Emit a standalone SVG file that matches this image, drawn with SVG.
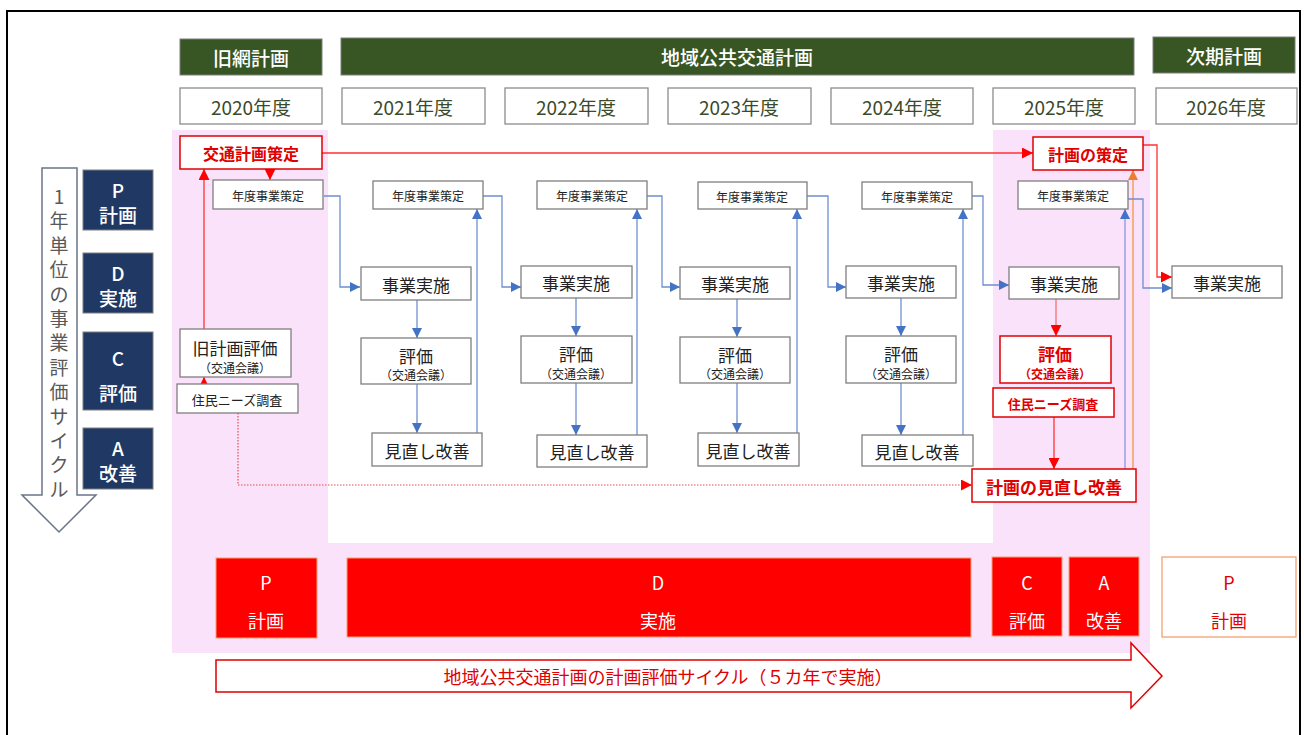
<svg xmlns="http://www.w3.org/2000/svg" width="1304" height="735" viewBox="0 0 1304 735">
<defs>
<style>
text{font-family:"Noto Sans CJK JP","Noto Sans",sans-serif;text-anchor:middle;dominant-baseline:central}
.hdr{fill:#375623;stroke:#7f7f7f;stroke-width:1}
.hdrt{fill:#fff;font-size:19px;font-weight:500}
.yr{fill:#fff;stroke:#8c8c8c;stroke-width:1.3}
.yrt{fill:#3a4a2a;font-size:19px}
.nd{fill:#fff;stroke:#7f7f7f;stroke-width:1.3}
.rnd{fill:#fff;stroke:#e00000;stroke-width:1.5}
.t12{font-size:12px;fill:#222}
.t16{font-size:17px;fill:#222}
.rt{fill:#e00000;font-weight:bold}
.pdca{fill:#1f3864;stroke:#7f7f7f;stroke-width:1}
.pdt{fill:#fff;font-size:19px;font-weight:500}
.blk{fill:#ff0000;stroke:#f4a070;stroke-width:1}
.blkt{fill:#fff;font-size:18px}
.bl{fill:none;stroke:#6f8fcf;stroke-width:1.3}
.rl{fill:none;stroke:#ff3030;stroke-width:1.3}
</style>
<marker id="ab" viewBox="0 0 10 10" refX="10" refY="5" markerWidth="10" markerHeight="10" markerUnits="userSpaceOnUse" orient="auto"><path d="M0,0 L10,5 L0,10 z" fill="#4472c4"/></marker>
<marker id="ar" viewBox="0 0 10 10" refX="10" refY="5" markerWidth="11" markerHeight="11" markerUnits="userSpaceOnUse" orient="auto"><path d="M0,0 L10,5 L0,10 z" fill="#ff0000"/></marker>
<marker id="ao" viewBox="0 0 10 10" refX="10" refY="5" markerWidth="10" markerHeight="10" markerUnits="userSpaceOnUse" orient="auto"><path d="M0,0 L10,5 L0,10 z" fill="#ed7d31"/></marker>
</defs>
<rect x="0" y="0" width="1304" height="735" fill="#fff"/>
<rect x="7" y="11" width="1293" height="740" fill="none" stroke="#000" stroke-width="2"/>

<g id="background">
<rect x="172" y="130" width="978" height="523" fill="#fbe2fb"/>
<rect x="328" y="130" width="665" height="413" fill="#fff"/>
</g>

<g id="headers">
<g id="h-old"><rect class="hdr" x="180" y="39" width="142" height="36"/><text class="hdrt" x="251" y="57">旧網計画</text></g>
<g id="h-main"><rect class="hdr" x="341" y="38" width="793" height="37"/><text class="hdrt" x="737" y="56">地域公共交通計画</text></g>
<g id="h-next"><rect class="hdr" x="1153" y="37" width="142" height="36"/><text class="hdrt" x="1224" y="55">次期計画</text></g>
</g>

<g id="years">
<g id="y2020"><rect class="yr" x="180" y="88" width="142" height="36"/><text class="yrt" x="251" y="106">2020年度</text></g>
<g id="y2021"><rect class="yr" x="342" y="88" width="143" height="36"/><text class="yrt" x="413" y="106">2021年度</text></g>
<g id="y2022"><rect class="yr" x="505" y="88" width="143" height="36"/><text class="yrt" x="576" y="106">2022年度</text></g>
<g id="y2023"><rect class="yr" x="668" y="88" width="143" height="36"/><text class="yrt" x="739" y="106">2023年度</text></g>
<g id="y2024"><rect class="yr" x="831" y="88" width="142" height="36"/><text class="yrt" x="902" y="106">2024年度</text></g>
<g id="y2025"><rect class="yr" x="993" y="88" width="142" height="36"/><text class="yrt" x="1064" y="106">2025年度</text></g>
<g id="y2026"><rect class="yr" x="1156" y="88" width="141" height="36"/><text class="yrt" x="1226" y="106">2026年度</text></g>
</g>

<g id="cycle-arrow">
<path d="M42,168 H77 V495 H96 L59,532 L22,495 H42 Z" fill="#fff" stroke="#6b7686" stroke-width="1.5"/>
<text font-size="19" fill="#595959"><tspan x="59" y="195">1</tspan><tspan x="59" dy="24.4">年</tspan><tspan x="59" dy="24.4">単</tspan><tspan x="59" dy="24.4">位</tspan><tspan x="59" dy="24.4">の</tspan><tspan x="59" dy="24.4">事</tspan><tspan x="59" dy="24.4">業</tspan><tspan x="59" dy="24.4">評</tspan><tspan x="59" dy="24.4">価</tspan><tspan x="59" dy="24.4">サ</tspan><tspan x="59" dy="24.4">イ</tspan><tspan x="59" dy="24.4">ク</tspan><tspan x="59" dy="24.4">ル</tspan></text>
</g>

<g id="pdca-left">
<g id="lp"><rect class="pdca" x="83" y="170" width="70" height="60"/><text class="pdt" x="118" y="189">P</text><text class="pdt" x="118" y="214">計画</text></g>
<g id="ld"><rect class="pdca" x="83" y="253" width="70" height="60"/><text class="pdt" x="118" y="272">D</text><text class="pdt" x="118" y="297">実施</text></g>
<g id="lc"><rect class="pdca" x="83" y="332" width="70" height="78"/><text class="pdt" x="118" y="357">C</text><text class="pdt" x="118" y="392">評価</text></g>
<g id="la"><rect class="pdca" x="83" y="428" width="70" height="61"/><text class="pdt" x="118" y="447">A</text><text class="pdt" x="118" y="472">改善</text></g>
</g>

<g id="connectors">
<path class="rl" d="M322,153 H1033" marker-end="url(#ar)"/>
<path class="rl" d="M270,169 V180" marker-end="url(#ar)"/>
<path class="rl" d="M204,330 V169" marker-end="url(#ar)"/>
<path class="rl" d="M204,398 V377" marker-end="url(#ar)"/>
<path d="M238,413 V485 H972" fill="none" stroke="#e05050" stroke-width="1.2" stroke-dasharray="1.5 1.5" marker-end="url(#ar)"/>
<path class="bl" d="M324,196 H340 V287 H360" marker-end="url(#ab)"/>
<path class="bl" d="M417,300 V338" marker-end="url(#ab)"/>
<path class="bl" d="M417,384 V433" marker-end="url(#ab)"/>
<path class="bl" d="M477,433 V209" marker-end="url(#ab)"/>
<path class="bl" d="M483,196 H502 V287 H521" marker-end="url(#ab)"/>
<path class="bl" d="M576,298 V336" marker-end="url(#ab)"/>
<path class="bl" d="M576,383 V435" marker-end="url(#ab)"/>
<path class="bl" d="M637,435 V209" marker-end="url(#ab)"/>
<path class="bl" d="M647,196 H662 V287 H680" marker-end="url(#ab)"/>
<path class="bl" d="M737,299 V337" marker-end="url(#ab)"/>
<path class="bl" d="M737,383 V433" marker-end="url(#ab)"/>
<path class="bl" d="M797,433 V209" marker-end="url(#ab)"/>
<path class="bl" d="M807,196 H828 V287 H846" marker-end="url(#ab)"/>
<path class="bl" d="M901,298 V336" marker-end="url(#ab)"/>
<path class="bl" d="M901,383 V435" marker-end="url(#ab)"/>
<path class="bl" d="M963,435 V209" marker-end="url(#ab)"/>
<path class="bl" d="M972,196 H983 V285 H1009" marker-end="url(#ab)"/>
<path d="M1056,299 V336" fill="none" stroke="#f08080" stroke-width="1.5" marker-end="url(#ar)"/>
<path class="rl" d="M1054,417 V469" marker-end="url(#ar)"/>
<path d="M1125,469 V209" fill="none" stroke="#9aa0e0" stroke-width="1.5" marker-end="url(#ab)"/>
<path d="M1133,469 V170" fill="none" stroke="#f4b183" stroke-width="2" marker-end="url(#ao)"/>
<path class="rl" d="M1143,145 H1157 V277 H1172" marker-end="url(#ar)"/>
<path class="bl" d="M1128,199 H1143 V288 H1172" marker-end="url(#ab)"/>
</g>

<g id="n-kotsu"><rect class="rnd" x="180" y="136" width="142" height="33"/><text class="rt" font-size="16" x="251" y="153">交通計画策定</text></g>
<g id="n-nendo2020"><rect class="nd" x="213" y="180" width="110" height="29"/><text class="t12" x="268" y="195">年度事業策定</text></g>
<g id="n-kyuhyoka"><rect class="nd" x="180" y="329" width="111" height="48"/><text class="t16" x="235" y="347">旧計画評価</text><text class="t12" x="235" y="367">（交通会議）</text></g>
<g id="n-jumin2020"><rect class="nd" x="177" y="384" width="121" height="29"/><text font-size="13" fill="#222" x="237" y="399">住民ニーズ調査</text></g>

<g id="n-nendo2021"><rect class="nd" x="373" y="181" width="110" height="28"/><text class="t12" x="428" y="195">年度事業策定</text></g>
<g id="n-jisshi2021"><rect class="nd" x="361" y="267" width="110" height="33"/><text class="t16" x="416" y="284">事業実施</text></g>
<g id="n-hyoka2021"><rect class="nd" x="361" y="338" width="110" height="46"/><text class="t16" x="416" y="355">評価</text><text class="t12" x="416" y="374">（交通会議）</text></g>
<g id="n-kaizen2021"><rect class="nd" x="372" y="433" width="110" height="33"/><text class="t16" x="427" y="450">見直し改善</text></g>

<g id="n-nendo2022"><rect class="nd" x="537" y="181" width="110" height="28"/><text class="t12" x="592" y="195">年度事業策定</text></g>
<g id="n-jisshi2022"><rect class="nd" x="521" y="266" width="111" height="32"/><text class="t16" x="576" y="282">事業実施</text></g>
<g id="n-hyoka2022"><rect class="nd" x="521" y="336" width="111" height="47"/><text class="t16" x="576" y="353">評価</text><text class="t12" x="576" y="373">（交通会議）</text></g>
<g id="n-kaizen2022"><rect class="nd" x="537" y="435" width="110" height="32"/><text class="t16" x="592" y="451">見直し改善</text></g>

<g id="n-nendo2023"><rect class="nd" x="698" y="182" width="109" height="27"/><text class="t12" x="752" y="196">年度事業策定</text></g>
<g id="n-jisshi2023"><rect class="nd" x="680" y="267" width="110" height="32"/><text class="t16" x="735" y="283">事業実施</text></g>
<g id="n-hyoka2023"><rect class="nd" x="680" y="337" width="110" height="46"/><text class="t16" x="735" y="354">評価</text><text class="t12" x="735" y="373">（交通会議）</text></g>
<g id="n-kaizen2023"><rect class="nd" x="698" y="433" width="101" height="33"/><text class="t16" x="748" y="450">見直し改善</text></g>

<g id="n-nendo2024"><rect class="nd" x="862" y="182" width="110" height="27"/><text class="t12" x="917" y="196">年度事業策定</text></g>
<g id="n-jisshi2024"><rect class="nd" x="846" y="266" width="110" height="32"/><text class="t16" x="901" y="282">事業実施</text></g>
<g id="n-hyoka2024"><rect class="nd" x="846" y="336" width="110" height="47"/><text class="t16" x="901" y="353">評価</text><text class="t12" x="901" y="373">（交通会議）</text></g>
<g id="n-kaizen2024"><rect class="nd" x="862" y="435" width="111" height="31"/><text class="t16" x="917" y="451">見直し改善</text></g>

<g id="n-sakutei2025"><rect class="rnd" x="1033" y="137" width="110" height="33"/><text class="rt" font-size="16" x="1088" y="154">計画の策定</text></g>
<g id="n-nendo2025"><rect class="nd" x="1018" y="181" width="110" height="28"/><text class="t12" x="1073" y="195">年度事業策定</text></g>
<g id="n-jisshi2025"><rect class="nd" x="1009" y="267" width="110" height="32"/><text class="t16" x="1064" y="283">事業実施</text></g>
<g id="n-hyoka2025"><rect class="rnd" x="1000" y="336" width="111" height="47"/><text class="rt" font-size="17" x="1055" y="353">評価</text><text class="rt" font-size="12" x="1055" y="373">（交通会議）</text></g>
<g id="n-jumin2025"><rect class="rnd" x="993" y="388" width="121" height="29"/><text class="rt" font-size="13" x="1053" y="403">住民ニーズ調査</text></g>
<g id="n-kaizen2025"><rect class="rnd" x="972" y="469" width="164" height="33"/><text class="rt" font-size="17" x="1054" y="486">計画の見直し改善</text></g>
<g id="n-jisshi2026"><rect class="nd" x="1172" y="266" width="110" height="32"/><text class="t16" x="1227" y="282">事業実施</text></g>

<g id="phases">
<g id="bp"><rect class="blk" x="216" y="558" width="101" height="80"/><text class="blkt" x="266" y="582">P</text><text class="blkt" x="266" y="620">計画</text></g>
<g id="bd"><rect class="blk" x="347" y="558" width="624" height="79"/><text class="blkt" x="658" y="582">D</text><text class="blkt" x="658" y="620">実施</text></g>
<g id="bc"><rect class="blk" x="992" y="557" width="70" height="79"/><text class="blkt" x="1027" y="582">C</text><text class="blkt" x="1027" y="620">評価</text></g>
<g id="ba"><rect class="blk" x="1069" y="557" width="70" height="79"/><text class="blkt" x="1104" y="582">A</text><text class="blkt" x="1104" y="620">改善</text></g>
<g id="bp2"><rect x="1162" y="557" width="134" height="80" fill="#fff" stroke="#f4a070" stroke-width="1.3"/><text class="blkt" style="fill:#e00000" x="1229" y="582">P</text><text class="blkt" style="fill:#e00000" x="1229" y="620">計画</text></g>
</g>

<g id="plan-cycle">
<path d="M216,660 H1131 V643 L1162,676 L1131,708 V692 H216 Z" fill="#fff" stroke="#e00000" stroke-width="1.5"/>
<text font-size="18" fill="#e00000" x="668" y="676">地域公共交通計画の計画評価サイクル（５カ年で実施）</text>
</g>
</svg>
